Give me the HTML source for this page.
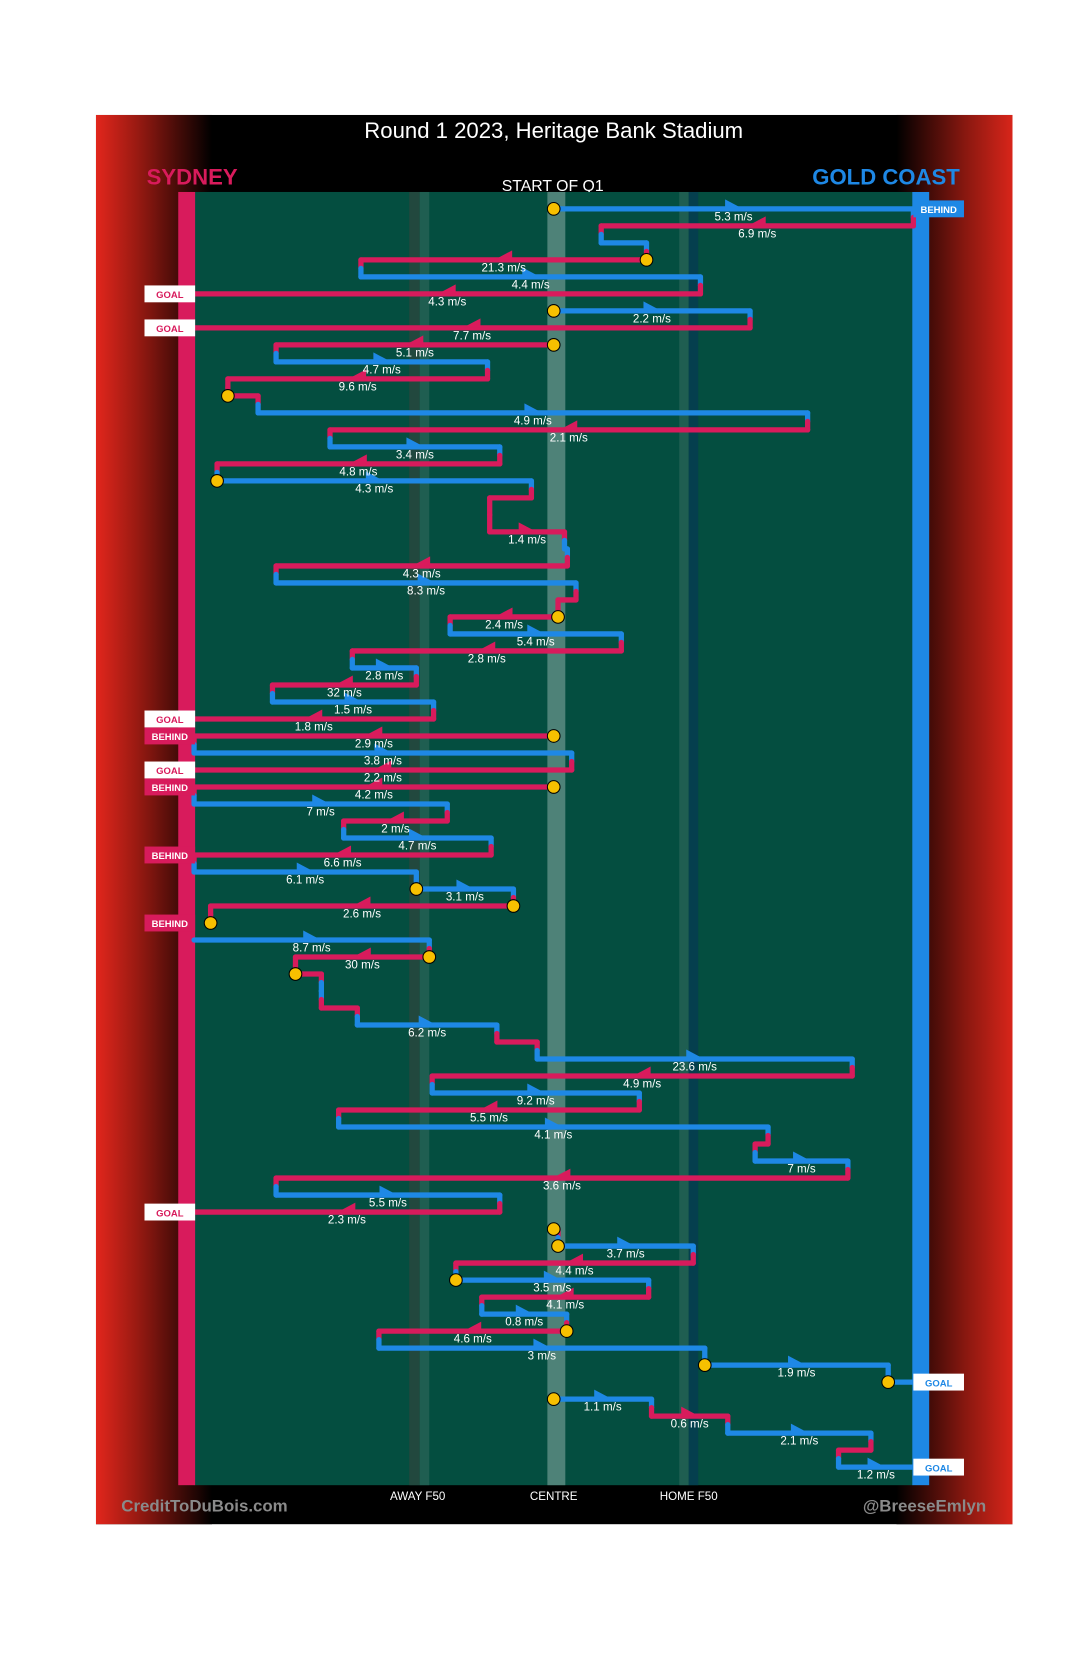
<!DOCTYPE html>
<html><head><meta charset="utf-8">
<style>
html,body{margin:0;padding:0;background:#fff;}
svg{display:block;}
text{font-family:"Liberation Sans",sans-serif;}
</style></head>
<body>
<svg id="chart" width="1080" height="1655" viewBox="0 0 1024 1569" preserveAspectRatio="none" xmlns="http://www.w3.org/2000/svg">
<defs>
<linearGradient id="gl" x1="0" x2="1" y1="0" y2="0"><stop offset="0" stop-color="#e2261c"/><stop offset="0.35" stop-color="#9a1a12"/><stop offset="1" stop-color="#000"/></linearGradient>
<linearGradient id="gr" x1="0" x2="1" y1="0" y2="0"><stop offset="0" stop-color="#000"/><stop offset="0.6" stop-color="#8a1810"/><stop offset="1" stop-color="#d8251a"/></linearGradient>
</defs>
<rect x="91" y="109" width="869" height="1336" fill="#000"/>
<rect x="91" y="109" width="110" height="1336" fill="url(#gl)"/>
<rect x="850" y="109" width="110" height="1336" fill="url(#gr)"/>
<text x="525" y="131" fill="#fff" font-size="21" text-anchor="middle">Round 1 2023, Heritage Bank Stadium</text>
<text x="139" y="175" fill="#d81b5c" font-size="21" font-weight="bold">SYDNEY</text>
<text x="910" y="175" fill="#1e88e5" font-size="21" font-weight="bold" text-anchor="end">GOLD COAST</text>
<text x="524" y="181" fill="#fff" font-size="15" text-anchor="middle">START OF Q1</text>
<rect x="184" y="182" width="682" height="1226" fill="#044e40"/>
<rect x="388" y="182" width="10" height="1226" fill="#22483e"/>
<rect x="398" y="182" width="9" height="1226" fill="#1f5e51"/>
<rect x="519" y="182" width="17" height="1226" fill="#4e8278"/>
<rect x="644" y="182" width="9" height="1226" fill="#1f5e51"/>
<rect x="653" y="182" width="9" height="1226" fill="#053f4e"/>
<rect x="169" y="182" width="16" height="1226" fill="#d81b5c"/>
<rect x="865" y="182" width="16" height="1226" fill="#1e88e5"/>
<g id="marks"></g>
<text x="396" y="1422" fill="#fff" font-size="11" text-anchor="middle">AWAY F50</text>
<text x="525" y="1422" fill="#fff" font-size="11" text-anchor="middle">CENTRE</text>
<text x="653" y="1422" fill="#fff" font-size="11" text-anchor="middle">HOME F50</text>
<text x="115" y="1433" fill="#8a8a8a" font-size="16" font-weight="bold">CreditToDuBois.com</text>
<text x="935" y="1433" fill="#8a8a8a" font-size="16" font-weight="bold" text-anchor="end">@BreeseEmlyn</text>
</svg>
<script>
// Ground position: 0 = Sydney goal, 100 = Gold Coast goal. Row = event index.
const segRow   = [0,1,2,3,4,5,6,7,8,9,10,11,12,13,14,15,16,17,19,20,21,22,23,24,25,26,27,28,29,30,31,32,33,34,35,36,37,38,39,40,41,42,43,44,45,46,47,48,49,50,51,52,53,54,55,56,57,58,59,60,61,62,63,64,65,66,67,68,69,70,71,72,73,74];
const segTeam  = ["G","S","G","S","G","S","G","S","S","G","S","S","G","S","G","S","G","S","S","G","S","G","S","S","G","S","G","S","G","S","S","G","S","S","G","S","G","S","G","G","S","S","G","S","S","G","S","G","S","G","S","G","S","G","S","G","S","G","S","S","G","S","G","S","G","S","G","G","G","G","S","G","S","G"];
const segFrom  = [50,100,56.6,62.9,23.2,70.4,50,77.3,50,11.4,40.8,4.7,8.9,85.3,18.9,42.5,3.2,46.9,41.1,51.5,51.9,11.4,53.1,50.6,35.6,59.4,22,30.9,10.9,33.3,50,0,52.5,50,0,35.2,20.8,41.3,0,30.9,44.4,2.3,0,32.7,14.1,17.7,17.7,22.7,42.1,47.7,91.5,33.1,61.9,20.1,79.8,78,90.9,11.4,42.5,50,50.6,69.4,36.4,63.2,40,51.8,25.7,71,96.5,50,63.6,74.2,94.1,89.6];
const segTo    = [100,56.6,62.9,23.2,70.4,0,77.3,0,11.4,40.8,4.7,8.9,85.3,18.9,42.5,3.2,46.9,41.1,51.5,51.9,11.4,53.1,50.6,35.6,59.4,22,30.9,10.9,33.3,0,0,52.5,0,0,35.2,20.8,41.3,0,30.9,44.4,2.3,2.3,32.7,14.1,17.7,17.7,22.7,42.1,47.7,91.5,33.1,61.9,20.1,79.8,78,90.9,11.4,42.5,0,50.6,69.4,36.4,63.2,40,51.8,25.7,71,96.5,100,63.6,74.2,94.1,89.6,100];
const segSpeed = ["5.3","6.9","","21.3","4.4","4.3","2.2","7.7","5.1","4.7","9.6","","4.9","2.1","3.4","4.8","4.3","","1.4","","4.3","8.3","","2.4","5.4","2.8","2.8","32","1.5","1.8","2.9","3.8","2.2","4.2","7","2","4.7","6.6","6.1","3.1","2.6","","8.7","30","","","","6.2","","23.6","4.9","9.2","5.5","4.1","","7","3.6","5.5","2.3","","3.7","4.4","3.5","4.1","0.8","4.6","3","1.9","","1.1","0.6","2.1","","1.2"];
const stopRow  = [0,3,6,8,11,16,24,31,34,40,41,42,44,45,60,61,63,66,68,69,70];
const stopPos  = [50,62.9,50,50,4.7,3.2,50.6,50,50,30.9,44.4,2.3,32.7,14.1,50,50.6,36.4,51.8,71,96.5,50];
const outRow   = [0,5,7,30,31,33,34,38,42,59,69,74];
const outTeam  = ["G","S","S","S","S","S","S","S","S","S","G","G"];
const outText  = ["BEHIND","GOAL","GOAL","GOAL","BEHIND","GOAL","BEHIND","BEHIND","BEHIND","GOAL","GOAL","GOAL"];

const NS="http://www.w3.org/2000/svg";
const col={S:"#d81b5c",G:"#1e88e5"};
const xS=p=>184+p*6.82;
const yS=r=>198+r*16.12;
const g=document.getElementById('marks');
function mk(tag,attrs){const e=document.createElementNS(NS,tag);for(const k in attrs)e.setAttribute(k,attrs[k]);g.appendChild(e);return e;}
const W=5;
// connectors
for(let i=1;i<segRow.length;i++){
  if(Math.abs(segTo[i-1]-segFrom[i])<0.5){
    const x=xS(segFrom[i]),y1=yS(segRow[i-1]),y2=yS(segRow[i]),ym=(y1+y2)/2;
    const a=mk('line',{x1:x,x2:x,y1:y1,y2:ym,stroke:col[segTeam[i-1]],'stroke-width':W,'stroke-linecap':'round'});
    
    
    const b=mk('line',{x1:x,x2:x,y1:ym,y2:y2,stroke:col[segTeam[i]],'stroke-width':W,'stroke-linecap':'round'});
    
    
  }
}
// segments
for(let i=0;i<segRow.length;i++){
  const x1=xS(segFrom[i]),x2=xS(segTo[i]),y=yS(segRow[i]);
  const l=mk('line',{x1:x1,x2:x2,y1:y,y2:y,stroke:col[segTeam[i]],'stroke-width':W,'stroke-linecap':'round'});
  
  
  if(segSpeed[i]){
    const m=(x1+x2)/2,d=x2>=x1?1:-1;
    const t=mk('polygon',{points:`${m-8*d},${y-9} ${m-8*d},${y} ${m+9*d},${y}`,fill:col[segTeam[i]]});
    
    
  }
}
// stoppages
for(let i=0;i<stopRow.length;i++){
  const c=mk('circle',{cx:xS(stopPos[i]),cy:yS(stopRow[i]),r:6,fill:'#f7c000',stroke:'#000','stroke-width':1});
  
  
}
// speed labels on top
for(let i=0;i<segRow.length;i++){
  if(!segSpeed[i]) continue;
  const m=(xS(segFrom[i])+xS(segTo[i]))/2,y=yS(segRow[i]);
  const tx=mk('text',{x:m,y:y+11,fill:'#ffffff','font-size':11,'text-anchor':'middle'});
  tx.textContent=segSpeed[i]+' m/s';
  
  
}
// outcomes
for(let i=0;i<outRow.length;i++){
  const y=yS(outRow[i]),left=outTeam[i]==="S";
  const goal=outText[i]==="GOAL";
  const bx=left?137:866;
  const r=mk('rect',{x:bx,y:y-8,width:48,height:16,fill:goal?'#fff':col[outTeam[i]]});
  
  
  const t=mk('text',{x:bx+24,y:y+4,fill:goal?col[outTeam[i]]:'#fff','font-size':9,'font-weight':'bold','text-anchor':'middle'});
  t.textContent=outText[i];
  
  
}
</script>
</body></html>
